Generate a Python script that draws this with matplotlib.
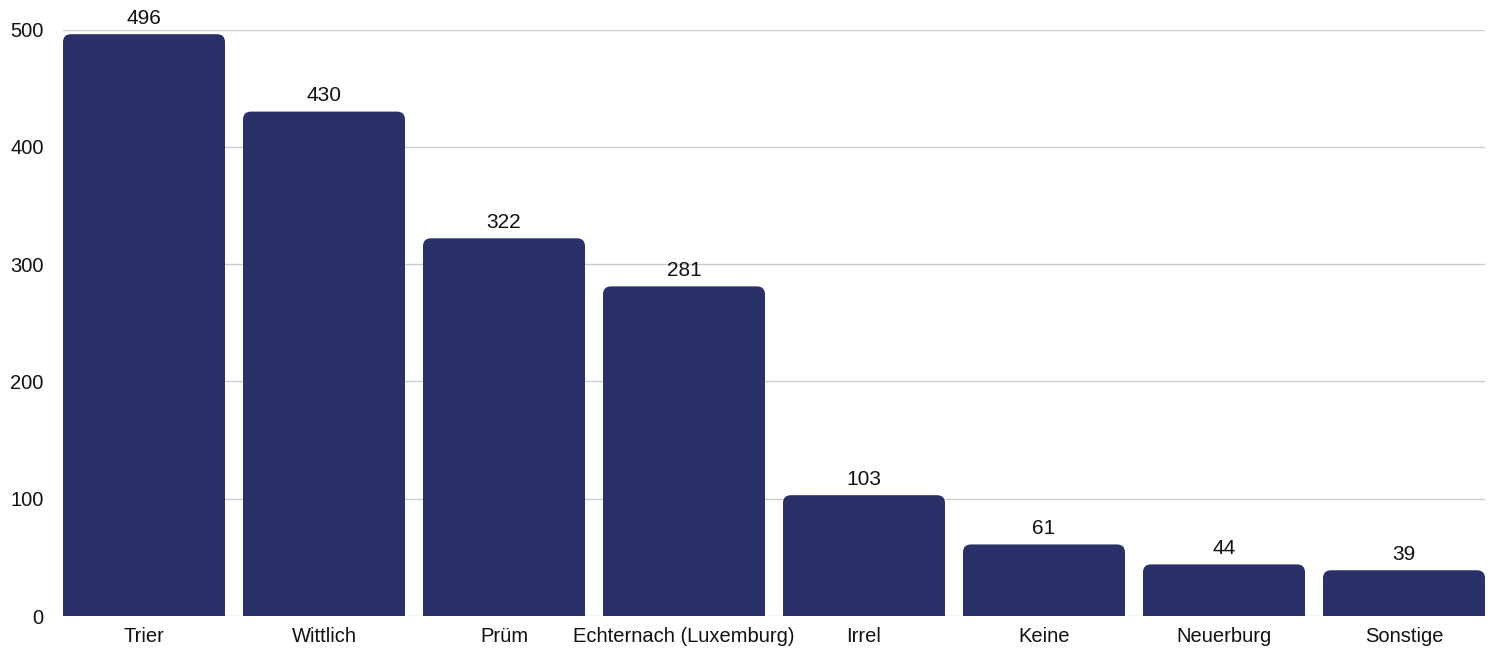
import matplotlib
matplotlib.use("Agg")
import matplotlib.pyplot as plt
from matplotlib.path import Path
from matplotlib.patches import PathPatch

categories = ["Trier", "Wittlich", "Prüm", "Echternach (Luxemburg)", "Irrel",
              "Keine", "Neuerburg", "Sonstige"]
values = [496, 430, 322, 281, 103, 61, 44, 39]
yticks = [0, 100, 200, 300, 400, 500]

BAR_COLOR = "#2a3068"
GRID_COLOR = "#cccccc"
plt.rcParams["font.family"] = ["Liberation Sans", "DejaVu Sans"]

fig = plt.figure(figsize=(14.94, 6.48), dpi=100)
ax = fig.add_axes([63 / 1494, 32 / 648, 1422 / 1494, (616 - 29.5) / 648])
ax.set_xlim(-0.45, len(categories) - 0.55)
ax.set_ylim(0, 500)

width = 0.9
# corner radius of roughly 8 px expressed in data units
px_x = 1422 / (len(categories) - 0.1)
px_y = (616 - 29.5) / 500
rx, ry = 8 / px_x, 8 / px_y


def rounded_top_bar(x, h):
    x0, x1 = x - width / 2, x + width / 2
    r_y = min(ry, h / 2)
    verts = [(x0, 0), (x0, h - r_y), (x0, h), (x0 + rx, h),
             (x1 - rx, h), (x1, h), (x1, h - r_y), (x1, 0), (x0, 0)]
    codes = [Path.MOVETO, Path.LINETO, Path.CURVE3, Path.CURVE3,
             Path.LINETO, Path.CURVE3, Path.CURVE3, Path.LINETO, Path.CLOSEPOLY]
    return PathPatch(Path(verts, codes), facecolor=BAR_COLOR, edgecolor="none",
                     zorder=3)


for i, v in enumerate(values):
    ax.add_patch(rounded_top_bar(i, v))
    ax.annotate(str(v), (i, v), xytext=(0, 4.5), textcoords="offset points",
                ha="center", va="bottom", fontsize=15, color="#111111",
                annotation_clip=False)

ax.set_yticks(yticks)
ax.set_yticklabels([str(t) for t in yticks])
ax.set_xticks(range(len(categories)))
ax.set_xticklabels(categories)
ax.tick_params(axis="both", length=0, labelsize=14.5, colors="#111111")
ax.tick_params(axis="y", pad=14)
ax.tick_params(axis="x", pad=8)
ax.grid(axis="y", color=GRID_COLOR, linewidth=1, zorder=0)
ax.set_axisbelow(True)
for s in ax.spines.values():
    s.set_visible(False)

fig.savefig("out.png", dpi=100, facecolor="white")
